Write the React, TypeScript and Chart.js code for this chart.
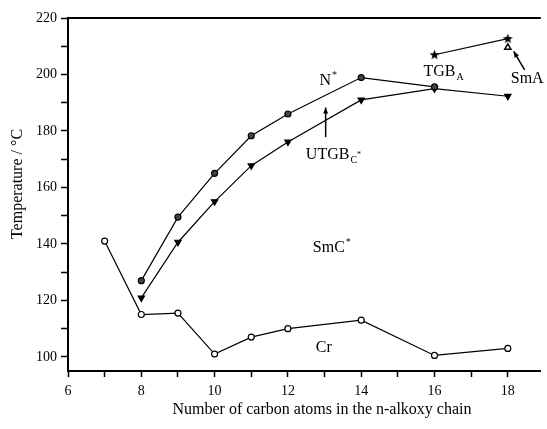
import { useEffect, useRef } from "react";
import { Chart, registerables } from "chart.js";

Chart.register(...registerables);

// ---- data ----
const crX = [7, 8, 9, 10, 11, 12, 14, 16, 18];
const crY = [141, 115, 115.5, 101, 107, 110, 113, 100.5, 103];
const nX = [8, 9, 10, 11, 12, 14, 16];
const nY = [127, 149.5, 165, 178.3, 186, 198.9, 195.6];
const utX = [8, 9, 10, 11, 12, 14, 16, 18];
const utY = [120.9, 140.6, 155, 167.7, 176.1, 191, 195, 192.3];
const tgbX = [16, 18];
const tgbY = [207, 212.7];
const smaX = [18];
const smaY = [209.6];

const xTickValues = [6, 7, 8, 9, 10, 11, 12, 13, 14, 15, 16, 17, 18];
const xTickLabels = [6, 8, 10, 12, 14, 16, 18];
const yTickValues = [100, 110, 120, 130, 140, 150, 160, 170, 180, 190, 200, 210, 220];
const yTickLabels = [100, 120, 140, 160, 180, 200, 220];

const xTitle = "Number of carbon atoms in the n-alkoxy chain";
const yTitle = "Temperature / \u00B0C";

// phase labels: anchor (left, baseline) in data units
const phaseText = ["N", "UTGB", "TGB", "SmA", "SmC", "Cr"];
const phaseSub = ["", "C", "A", "", "", ""];
const phaseSubSup = ["", "*", "", "", "", ""];
const phaseSup = ["*", "", "", "", "*", ""];
const phaseX = [12.86, 12.49, 15.7, 18.08, 12.68, 12.76];
const phaseY = [196.3, 170.1, 199.4, 196.9, 137.2, 101.6];

// arrows: from -> to (data units)
const arrowFromX = [13.03, 18.46];
const arrowFromY = [177.8, 201.6];
const arrowToX = [13.03, 18.16];
const arrowToY = [188.3, 208.2];

const FONT = "'Liberation Serif', 'Times New Roman', serif";

function toPts(xs: number[], ys: number[]) {
  return xs.map((x, i) => ({ x, y: ys[i] }));
}

function makeStar(): HTMLCanvasElement {
  const c = document.createElement("canvas");
  c.width = 11;
  c.height = 11;
  const ctx = c.getContext("2d")!;
  ctx.fillStyle = "#000";
  ctx.beginPath();
  const cx = 5.5, cy = 5.8, R = 5.3, r = 2.2;
  for (let i = 0; i < 10; i++) {
    const a = -Math.PI / 2 + (i * Math.PI) / 5;
    const rad = i % 2 === 0 ? R : r;
    const px = cx + rad * Math.cos(a);
    const py = cy + rad * Math.sin(a);
    if (i === 0) ctx.moveTo(px, py);
    else ctx.lineTo(px, py);
  }
  ctx.closePath();
  ctx.fill();
  return c;
}

const decorPlugin = {
  id: "decor",
  afterDatasetsDraw(chart: any) {
    const { ctx, chartArea, scales } = chart;
    const xs = scales.x, ys = scales.y;
    ctx.save();
    // top frame line
    ctx.strokeStyle = "#000";
    ctx.lineWidth = 2;
    ctx.beginPath();
    ctx.moveTo(chartArea.left, chartArea.top);
    ctx.lineTo(chartArea.right, chartArea.top);
    ctx.stroke();

    // arrows
    ctx.lineWidth = 1.5;
    for (let i = 0; i < arrowFromX.length; i++) {
      const x1 = xs.getPixelForValue(arrowFromX[i]);
      const y1 = ys.getPixelForValue(arrowFromY[i]);
      const x2 = xs.getPixelForValue(arrowToX[i]);
      const y2 = ys.getPixelForValue(arrowToY[i]);
      ctx.beginPath();
      ctx.moveTo(x1, y1);
      ctx.lineTo(x2, y2);
      ctx.stroke();
      const ang = Math.atan2(y2 - y1, x2 - x1);
      const L = 6, W = 2.5;
      ctx.beginPath();
      ctx.moveTo(x2, y2);
      ctx.lineTo(x2 - L * Math.cos(ang) + W * Math.sin(ang), y2 - L * Math.sin(ang) - W * Math.cos(ang));
      ctx.lineTo(x2 - L * Math.cos(ang) - W * Math.sin(ang), y2 - L * Math.sin(ang) + W * Math.cos(ang));
      ctx.closePath();
      ctx.fillStyle = "#000";
      ctx.fill();
    }

    // phase labels
    ctx.fillStyle = "#000";
    ctx.textBaseline = "alphabetic";
    ctx.textAlign = "left";
    for (let i = 0; i < phaseText.length; i++) {
      let px = xs.getPixelForValue(phaseX[i]);
      const py = ys.getPixelForValue(phaseY[i]);
      ctx.font = `16px ${FONT}`;
      ctx.fillText(phaseText[i], px, py);
      px += ctx.measureText(phaseText[i]).width;
      if (phaseSup[i]) {
        ctx.font = `10px ${FONT}`;
        ctx.fillText(phaseSup[i], px + 1, py - 7);
      }
      if (phaseSub[i]) {
        ctx.font = `10px ${FONT}`;
        ctx.fillText(phaseSub[i], px + 1, py + 4);
        const w = ctx.measureText(phaseSub[i]).width;
        if (phaseSubSup[i]) {
          ctx.font = `8px ${FONT}`;
          ctx.fillText(phaseSubSup[i], px + 1 + w, py - 2);
        }
      }
    }

    // axis titles
    ctx.font = `16px ${FONT}`;
    ctx.textAlign = "center";
    ctx.textBaseline = "middle";
    ctx.fillText(xTitle, chartArea.left + 254, chartArea.bottom + 39);
    ctx.translate(18, chartArea.top + 166);
    ctx.rotate(-Math.PI / 2);
    ctx.fillText(yTitle, 0, 0);
    ctx.restore();
  },
};

export default function App() {
  const ref = useRef<HTMLCanvasElement | null>(null);

  useEffect(() => {
    if (!ref.current) return;
    const star = makeStar();
    const line = {
      showLine: true,
      borderColor: "#000",
      borderWidth: 1.2,
      pointBorderColor: "#000",
      pointBorderWidth: 1.2,
    };
    const chart = new Chart(ref.current, {
      type: "scatter",
      data: {
        datasets: [
          {
            ...line,
            label: "Cr",
            data: toPts(crX, crY),
            pointStyle: "circle",
            pointRadius: 3,
            pointBackgroundColor: "#fff",
          },
          {
            ...line,
            label: "N*",
            data: toPts(nX, nY),
            pointStyle: "circle",
            pointRadius: 3,
            pointBackgroundColor: "#444",
          },
          {
            ...line,
            label: "UTGB",
            data: toPts(utX, utY),
            pointStyle: "triangle",
            rotation: 180,
            pointRadius: 3.6,
            pointBackgroundColor: "#000",
          },
          {
            ...line,
            label: "TGBA",
            data: toPts(tgbX, tgbY),
            pointStyle: star,
            pointRadius: 5,
          },
          {
            label: "SmA",
            data: toPts(smaX, smaY),
            showLine: false,
            pointStyle: "triangle",
            pointRadius: 3.6,
            pointBorderColor: "#000",
            pointBorderWidth: 1.5,
            pointBackgroundColor: "#fff",
          },
        ],
      },
      options: {
        responsive: false,
        animation: false,
        layout: { padding: { top: 18, right: 1, left: 0, bottom: 0 } },
        plugins: {
          legend: { display: false },
          tooltip: { enabled: false },
        },
        scales: {
          x: {
            type: "linear",
            min: 6,
            max: 18.9,
            afterBuildTicks: (s: any) => {
              s.ticks = xTickValues.map((v) => ({ value: v }));
            },
            afterFit: (s: any) => {
              s.height = 58;
            },
            ticks: {
              autoSkip: false,
              maxRotation: 0,
              padding: 6,
              color: "#000",
              font: { family: FONT, size: 14 },
              callback: (v: any) => (xTickLabels.includes(Number(v)) ? String(v) : ""),
            },
            grid: {
              drawOnChartArea: false,
              drawTicks: true,
              tickLength: 6,
              tickWidth: 1.5,
              tickColor: "#000",
            },
            border: { display: true, color: "#000", width: 2 },
            title: { display: false, text: xTitle },
          },
          y: {
            type: "linear",
            min: 95,
            max: 220,
            afterBuildTicks: (s: any) => {
              s.ticks = yTickValues.map((v) => ({ value: v }));
            },
            afterFit: (s: any) => {
              s.width = 68;
            },
            ticks: {
              autoSkip: false,
              padding: 4,
              color: "#000",
              font: { family: FONT, size: 14 },
              callback: (v: any) => (yTickLabels.includes(Number(v)) ? String(v) : ""),
            },
            grid: {
              drawOnChartArea: false,
              drawTicks: true,
              tickLength: 7,
              tickWidth: 1.5,
              tickColor: "#000",
            },
            border: { display: true, color: "#000", width: 2 },
            title: { display: false, text: yTitle },
          },
        },
      },
      plugins: [decorPlugin],
    } as any);
    return () => chart.destroy();
  }, []);

  return (
    <div style={{ position: "absolute", left: 0, top: 0, width: 547, height: 429, background: "#fff" }}>
      <canvas ref={ref} width={547} height={429} style={{ width: 547, height: 429, display: "block" }} />
    </div>
  );
}
